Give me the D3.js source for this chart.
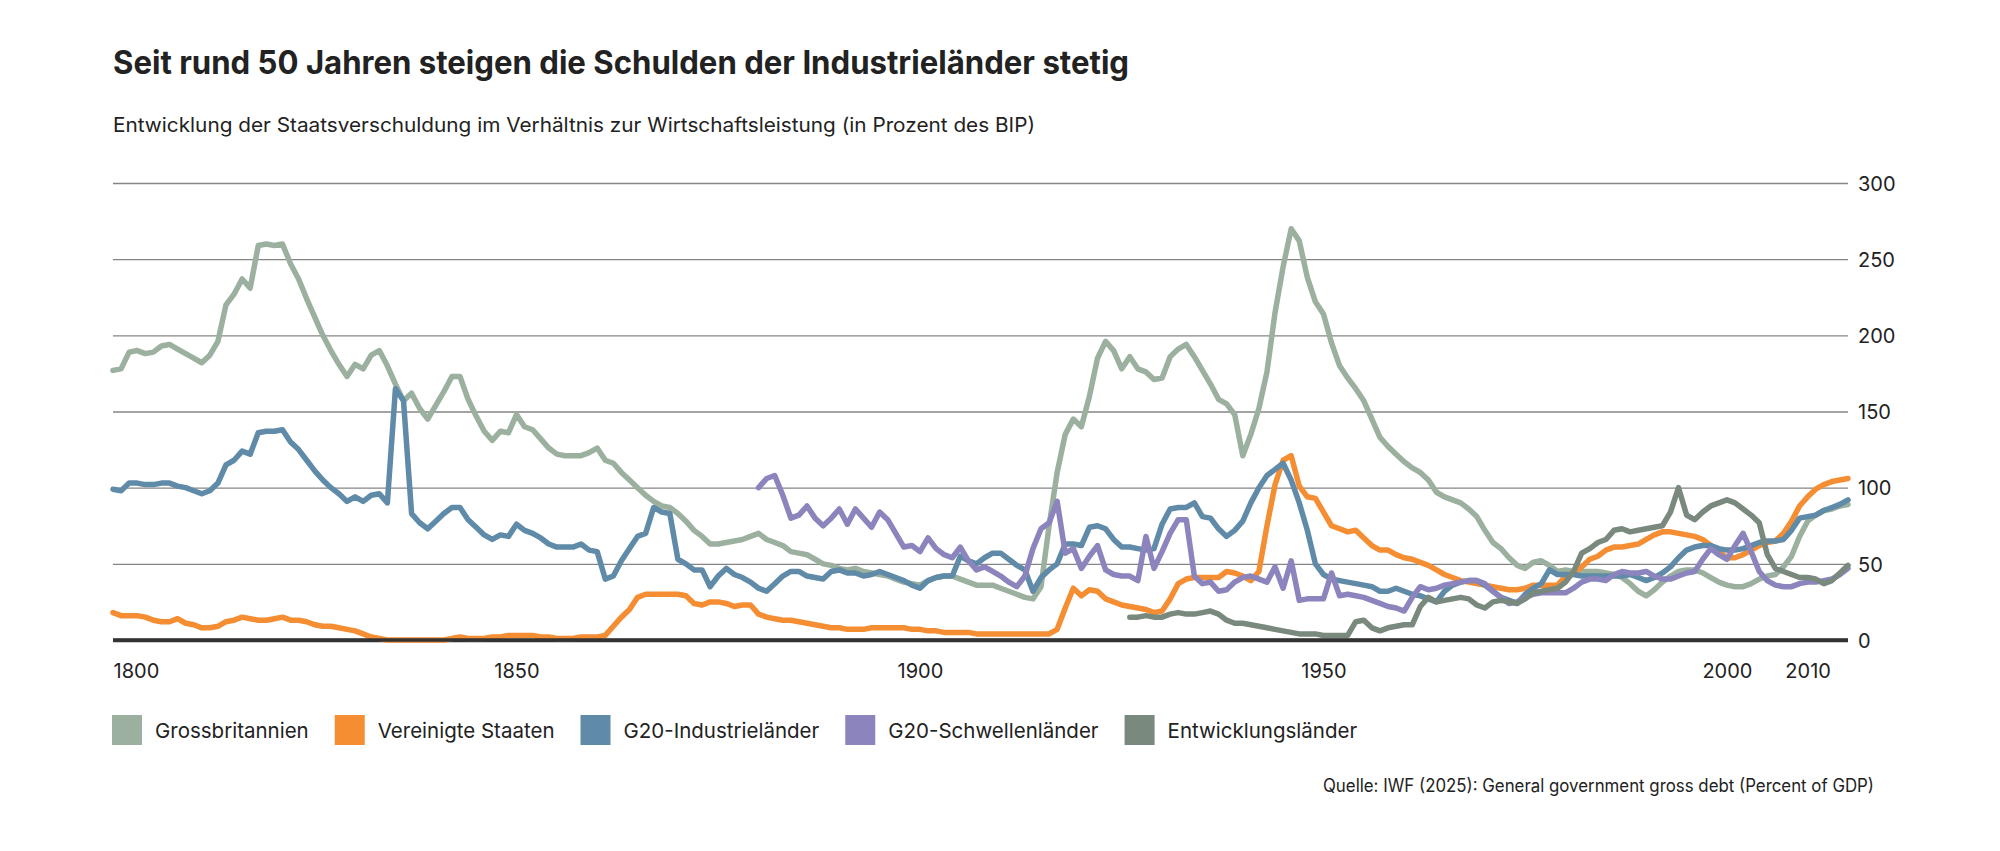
<!DOCTYPE html>
<html lang="de">
  <head>
    <meta charset="UTF-8" />
    <title>Seit rund 50 Jahren steigen die Schulden der Industrieländer stetig</title>
    <script src="https://d3js.org/d3.v7.min.js"></script>
    <style>
      body {
        margin: 0;
        background: #fff;
      }
      text {
        font-family: Inter, "Noto Sans", sans-serif;
        fill: #222;
      }
      .chart-title {
        font-size: 32px;
        font-weight: 700;
      }
      .chart-subtitle {
        font-size: 20px;
      }
      .tick-label {
        font-size: 20px;
      }
      .legend-label {
        font-size: 20.5px;
      }
      .source {
        font-size: 18px;
      }
    </style>
  </head>
  <body>
    <div id="chart"></div>

    <script>
      // Staatsverschuldung in % des BIP
      const gbStart = 1800;
      const gbValues = [
        177, 178, 189, 190, 188, 189, 193, 194, 191, 188,
        185, 182, 187, 196, 220, 227, 237, 231, 259, 260,
        259, 260, 247, 237, 224, 212, 200, 190, 181, 173,
        181, 178, 187, 190, 180, 168, 157, 162, 152, 145,
        154, 163, 173, 173, 158, 147, 137, 131, 137, 136,
        148, 140, 138, 132, 126, 122, 121, 121, 121, 123,
        126, 118, 116, 110, 105, 100, 95, 91, 88, 87,
        83, 78, 72, 68, 63, 63, 64, 65, 66, 68,
        70, 66, 64, 62, 58, 57, 56, 53, 50, 49,
        47, 46, 47, 45, 44, 43, 42, 40, 38, 37,
        36, 39, 41, 42, 42, 40, 38, 36, 36, 36,
        34, 32, 30, 28, 27, 35, 75, 110, 135, 145,
        140, 160, 185, 196, 190, 178, 186, 178, 176, 171,
        172, 186, 191, 194, 186, 177, 168, 158, 155, 148,
        121, 135, 152, 176, 215, 245, 270, 262, 238, 222,
        214, 195, 180, 172, 165, 157, 145, 133, 127, 122,
        117, 113, 110, 105, 97, 94, 92, 90, 86, 81,
        72, 64, 60, 54, 49, 47, 51, 52, 49, 45,
        46, 45, 45, 45, 45, 44, 43, 41, 37, 32,
        29, 33, 38, 42, 45, 46, 46, 44, 41, 38,
        36, 35, 35, 37, 40, 42, 43, 48, 55, 68,
        78, 82, 85, 86, 88, 89
      ];

      const usStart = 1800;
      const usValues = [
        18, 16, 16, 16, 15, 13, 12, 12, 14, 11,
        10, 8, 8, 9, 12, 13, 15, 14, 13, 13,
        14, 15, 13, 13, 12, 10, 9, 9, 8, 7,
        6, 4, 2, 1, 0, 0, 0, 0, 0, 0,
        0, 0, 1, 2, 1, 1, 1, 2, 2, 3,
        3, 3, 3, 2, 2, 1, 1, 1, 2, 2,
        2, 3, 9, 15, 20, 28, 30, 30, 30, 30,
        30, 29, 24, 23, 25, 25, 24, 22, 23, 23,
        17, 15, 14, 13, 13, 12, 11, 10, 9, 8,
        8, 7, 7, 7, 8, 8, 8, 8, 8, 7,
        7, 6, 6, 5, 5, 5, 5, 4, 4, 4,
        4, 4, 4, 4, 4, 4, 4, 7, 21, 34,
        29, 33, 32, 27, 25, 23, 22, 21, 20, 18,
        19, 27, 37, 40, 41, 41, 41, 41, 45, 44,
        42, 39, 45, 75, 102, 118, 121, 101, 94, 93,
        84, 75, 73, 71, 72, 67, 62, 59, 59, 56,
        54, 53, 51, 49, 46, 43, 41, 39, 38, 37,
        36, 35, 34, 33, 33, 34, 36, 36, 36, 36,
        42, 44, 48, 53, 55, 59, 61, 61, 62, 63,
        66, 69, 71, 71, 70, 69, 68, 66, 62, 58,
        54, 54, 56, 59, 62, 64, 65, 70, 78, 88,
        94, 99, 102, 104, 105, 106
      ];

      const g20IndStart = 1800;
      const g20IndValues = [
        99, 98, 103, 103, 102, 102, 103, 103, 101, 100,
        98, 96, 98, 103, 115, 118, 124, 122, 136, 137,
        137, 138, 130, 125, 118, 111, 105, 100, 96, 91,
        94, 91, 95, 96, 90, 165, 157, 83, 77, 73,
        78, 83, 87, 87, 79, 74, 69, 66, 69, 68,
        76, 72, 70, 67, 63, 61, 61, 61, 63, 59,
        58, 40, 42, 52, 60, 68, 70, 87, 84, 83,
        53, 50, 46, 46, 35, 42, 47, 43, 41, 38,
        34, 32, 37, 42, 45, 45, 42, 41, 40, 45,
        46, 44, 44, 42, 43, 45, 43, 41, 39, 36,
        34, 39, 41, 42, 42, 55, 52, 50, 54, 57,
        57, 53, 49, 46, 32, 41, 46, 50, 63, 63,
        62, 74, 75, 73, 66, 61, 61, 60, 59, 60,
        76, 86, 87, 87, 90, 81, 80, 73, 68, 72,
        78, 90, 100, 108, 112, 116, 105, 90, 72, 50,
        43, 40, 39, 38, 37, 36, 35, 32, 32, 34,
        32, 30, 29, 27, 25, 32, 36, 38, 39, 39,
        36, 32, 28, 26, 24, 30, 34, 37, 46, 43,
        43, 43, 42, 42, 42, 42, 42, 42, 43, 41,
        39, 41, 44, 48, 54, 59, 61, 62, 62, 60,
        59, 59, 60, 62, 64, 65, 65, 66, 72, 80,
        81, 82, 85, 87, 89, 92
      ];

      const g20EmStart = 1880;
      const g20EmValues = [
        100, 106, 108, 95, 80, 82, 88, 80, 75, 80,
        86, 76, 86, 80, 74, 84, 79, 70, 61, 62,
        58, 67, 60, 56, 54, 61, 52, 46, 48, 45,
        42, 38, 35, 42, 60, 73, 77, 91, 57, 60,
        47, 55, 62, 46, 43, 42, 42, 39, 68, 47,
        58, 70, 79, 79, 42, 37, 38, 32, 33, 38,
        41, 42, 40, 38, 48, 34, 52, 26, 27, 27,
        27, 44, 29, 30, 29, 28, 26, 24, 22, 21,
        19, 28, 35, 33, 34, 36, 37, 38, 39, 39,
        37, 32, 28, 24, 25, 28, 30, 31, 31, 31,
        31, 34, 38, 40, 40, 39, 43, 45, 44, 44,
        45, 42, 40, 40, 42, 44, 45, 53, 60, 56,
        53, 62, 70, 58, 45, 39, 36, 35, 35, 37,
        38, 38, 39, 40, 43, 47
      ];

      const devStart = 1926;
      const devValues = [
        15, 15, 16, 15,
        15, 17, 18, 17, 17, 18, 19, 17, 13, 11,
        11, 10, 9, 8, 7, 6, 5, 4, 4, 4,
        3, 3, 3, 3, 12, 13, 8, 6, 8, 9,
        10, 10, 22, 28, 25, 26, 27, 28, 27, 23,
        21, 25, 26, 25, 24, 27, 31, 32, 33, 34,
        38, 45, 57, 60, 64, 66, 72, 73, 71, 72,
        73, 74, 75, 84, 100, 82, 79, 84, 88, 90,
        92, 90, 86, 82, 77, 56, 47, 45, 43, 41,
        41, 40, 37, 39, 44, 49
      ];

      const seriesNames = [
        "Grossbritannien",
        "Vereinigte Staaten",
        "G20-Industrieländer",
        "G20-Schwellenländer",
        "Entwicklungsländer"
      ];
      const seriesStarts = [gbStart, usStart, g20IndStart, g20EmStart, devStart];
      const seriesValues = [gbValues, usValues, g20IndValues, g20EmValues, devValues];
      const seriesColors = ["#9bb09e", "#f58d33", "#5f8aa8", "#8b84bd", "#7a897d"];

      const yTicks = [0, 50, 100, 150, 200, 250, 300];
      const xTicks = [1800, 1850, 1900, 1950, 2000, 2010];

      const titleText = "Seit rund 50 Jahren steigen die Schulden der Industrieländer stetig";
      const subtitleText =
        "Entwicklung der Staatsverschuldung im Verhältnis zur Wirtschaftsleistung (in Prozent des BIP)";
      const sourceText = "Quelle: IWF (2025): General government gross debt (Percent of GDP)";

      // Dimensions
      const width = 2000;
      const height = 851;
      const plot = { left: 113, right: 1848, top: 183, bottom: 640 };

      const svg = d3
        .select("#chart")
        .append("svg")
        .attr("width", width)
        .attr("height", height);

      svg.append("rect").attr("width", width).attr("height", height).attr("fill", "#fff");

      // Scales
      const x = d3.scaleLinear().domain([1800, 2015]).range([plot.left, plot.right]);
      const y = d3.scaleLinear().domain([0, 300]).range([plot.bottom, plot.top]);

      // Title + subtitle
      svg
        .append("text")
        .attr("class", "chart-title")
        .attr("x", 113)
        .attr("y", 74)
        .attr("textLength", 1016)
        .attr("lengthAdjust", "spacingAndGlyphs")
        .text(titleText);

      svg
        .append("text")
        .attr("class", "chart-subtitle")
        .attr("x", 113)
        .attr("y", 132)
        .attr("textLength", 922)
        .attr("lengthAdjust", "spacingAndGlyphs")
        .text(subtitleText);

      // Gridlines and y labels (right side)
      const yAxis = svg
        .append("g")
        .attr("transform", `translate(${plot.right},0)`)
        .call(
          d3
            .axisRight(y)
            .tickValues(yTicks)
            .tickSize(-(plot.right - plot.left))
            .tickPadding(10)
        );
      yAxis.select(".domain").remove();
      yAxis
        .selectAll(".tick line")
        .attr("stroke", (d) => (d === 0 ? "#333" : "#858585"))
        .attr("stroke-width", (d) => (d === 0 ? 3.5 : 1.3));
      yAxis
        .selectAll(".tick text")
        .attr("class", "tick-label")
        .attr("font-family", null)
        .attr("font-size", null)
        .attr("fill", "#222")
        .attr("dy", "0.36em");

      // Lines
      const line = d3
        .line()
        .x((d) => x(d.year))
        .y((d) => y(d.value));

      const series = seriesNames.map((name, i) => ({
        name: name,
        color: seriesColors[i],
        points: seriesValues[i].map((v, j) => ({ year: seriesStarts[i] + j, value: v }))
      }));

      svg
        .append("g")
        .selectAll("path")
        .data(series)
        .enter()
        .append("path")
        .attr("d", (d) => line(d.points))
        .attr("fill", "none")
        .attr("stroke", (d) => d.color)
        .attr("stroke-width", 5.5)
        .attr("stroke-linejoin", "round")
        .attr("stroke-linecap", "round");

      // zero line drawn again on top like the reference
      svg
        .append("line")
        .attr("x1", plot.left)
        .attr("x2", plot.right)
        .attr("y1", y(0))
        .attr("y2", y(0))
        .attr("stroke", "#333")
        .attr("stroke-width", 3.5);

      // X axis labels
      const xAxis = svg
        .append("g")
        .attr("transform", `translate(0,${plot.bottom})`)
        .call(d3.axisBottom(x).tickValues(xTicks).tickFormat(d3.format("d")).tickSize(0).tickPadding(24));
      xAxis.select(".domain").remove();
      xAxis
        .selectAll(".tick text")
        .attr("class", "tick-label")
        .attr("font-family", null)
        .attr("font-size", null)
        .attr("fill", "#222")
        .attr("text-anchor", (d) => (d === 1800 ? "start" : "middle"));

      // Legend
      const legend = svg.append("g").attr("transform", "translate(112, 715)");
      let legendX = 0;
      series.forEach((s) => {
        const item = legend.append("g").attr("transform", `translate(${legendX},0)`);
        item.append("rect").attr("width", 30).attr("height", 30).attr("fill", s.color);
        const label = item
          .append("text")
          .attr("class", "legend-label")
          .attr("x", 43)
          .attr("y", 23)
          .text(s.name);
        legendX += 43 + label.node().getComputedTextLength() + 26;
      });

      // Source
      svg
        .append("text")
        .attr("class", "source")
        .attr("x", 1874)
        .attr("y", 792)
        .attr("text-anchor", "end")
        .attr("textLength", 551)
        .attr("lengthAdjust", "spacingAndGlyphs")
        .text(sourceText);
    </script>
  </body>
</html>
